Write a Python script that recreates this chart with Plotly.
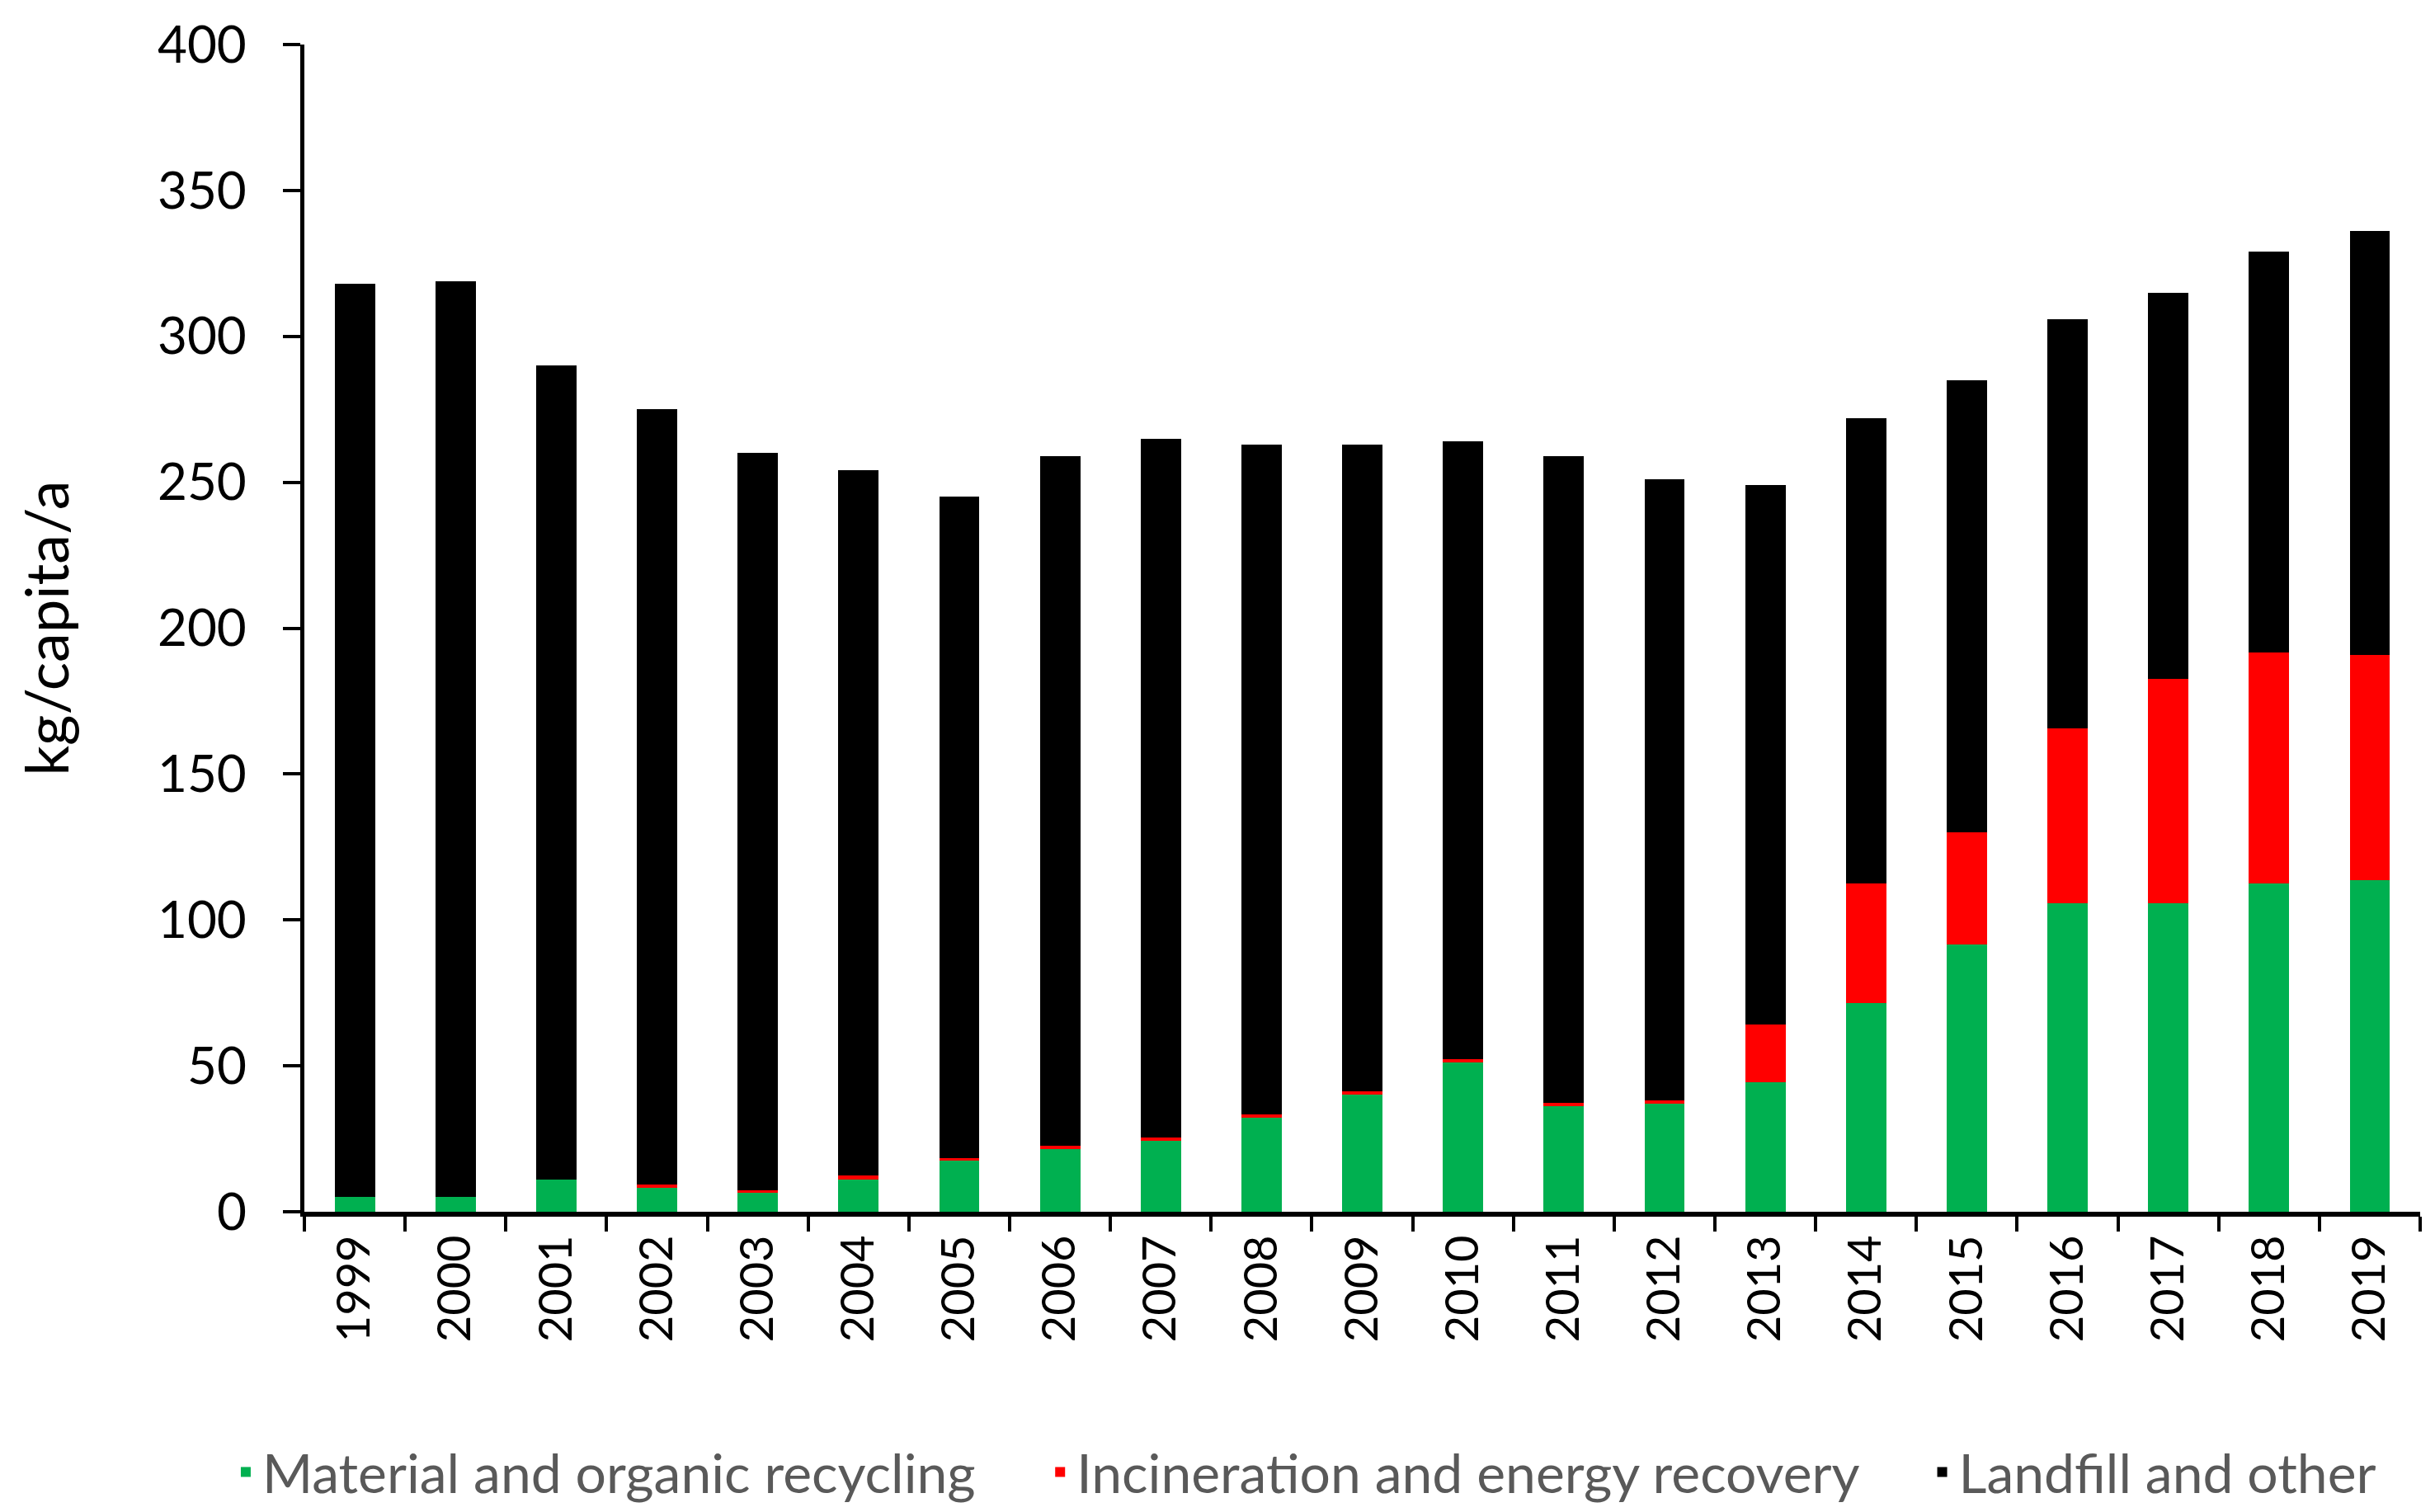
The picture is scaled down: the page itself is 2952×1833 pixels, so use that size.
import plotly.graph_objects as go

years = [str(y) for y in range(1999, 2020)]
recycling = [5.1, 5.1, 11.1, 8.3, 6.4, 11.1, 17.4, 21.4, 24.4, 32.2, 40.1,
             51.2, 36.3, 37.1, 44.3, 71.5, 91.5, 105.6, 105.6, 112.6, 113.6]
incineration = [0, 0, 0, 1.0, 0.9, 1.2, 1.0, 1.1, 1.0, 1.2, 1.2,
                1.1, 1.0, 1.1, 20.0, 41.0, 38.5, 60.0, 77.0, 79.0, 77.2]
landfill = [312.9, 313.9, 278.9, 265.7, 252.7, 241.7, 226.6, 236.5, 239.6, 229.6, 221.7,
            211.7, 221.7, 212.8, 184.7, 159.5, 155.0, 140.4, 132.4, 137.4, 145.2]

series = [
    ("Material and organic recycling", recycling, "#00B050", "legend"),
    ("Incineration and energy recovery", incineration, "#FF0000", "legend2"),
    ("Landfill and other", landfill, "#000000", "legend3"),
]

fig = go.Figure()
for name, vals, color, lg in series:
    fig.add_trace(go.Bar(x=years, y=vals, name=name, marker_color=color,
                         marker_line_width=0, legend=lg))

W, H = 2936, 1817
ml, mr, mt, mb = 361, 10, 46, 356

legend_font = dict(family="Lato", size=66, color="#595959")
def leg(x):
    return dict(orientation="h", x=x, xanchor="left", y=-0.223, yanchor="middle",
                font=legend_font, bgcolor="rgba(0,0,0,0)")

fig.update_layout(
    width=W, height=H,
    barmode="stack", bargap=0.6,
    plot_bgcolor="white", paper_bgcolor="white",
    margin=dict(l=ml, r=mr, t=mt, b=mb, autoexpand=False),
    font=dict(family="Lato", color="#000000"),
    showlegend=True,
    legend=leg(-0.0355),
    legend2=leg(0.3494),
    legend3=leg(0.7663),
)
fig.update_xaxes(
    type="category", tickson="boundaries", ticks="outside", ticklen=18, tickwidth=4,
    tickcolor="black", showline=True, linecolor="black", linewidth=6,
    tickangle=-90, tickfont=dict(family="Lato", size=56, color="black"),
    showgrid=False, zeroline=False,
)
fig.update_yaxes(
    range=[0, 400], dtick=50, ticks="outside", ticklen=21, tickwidth=4,
    tickcolor="black", showline=True, linecolor="black", linewidth=4.5,
    tickfont=dict(family="Lato", size=62, color="black"),
    ticklabelstandoff=32,
    showgrid=False, zeroline=False,
    title=dict(text="kg/capita/a", font=dict(family="Lato", size=72, color="black"),
               standoff=85),
)

fig.write_html("out.html")
